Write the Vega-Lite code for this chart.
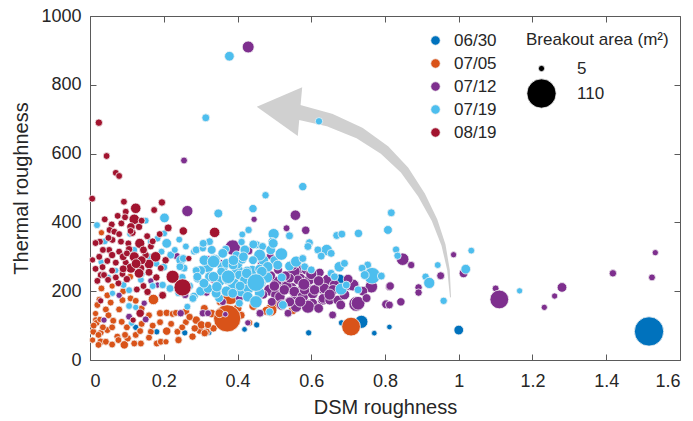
{
  "$schema": "https://vega.github.io/schema/vega-lite/v6.json",
  "width": 590,
  "height": 344,
  "autosize": {"type": "none"},
  "padding": {"left": 90, "top": 16, "right": 13, "bottom": 61},
  "background": "white",
  "config": {
    "font": "Liberation Sans",
    "view": {"stroke": "#5a5a5a", "strokeWidth": 1},
    "axis": {
      "grid": false,
      "domain": false,
      "tickColor": "#5a5a5a",
      "tickSize": -6,
      "tickWidth": 1,
      "labelFontSize": 18,
      "labelColor": "#262626",
      "titleFontSize": 20,
      "titleFontWeight": "normal",
      "titleColor": "#262626"
    },
    "legend": {
      "labelFontSize": 17,
      "labelColor": "#262626",
      "titleFontSize": 17,
      "titleFontWeight": "normal",
      "titleColor": "#262626",
      "padding": 0
    }
  },
  "datasets": {
    "arrow": [
      {"t": 0, "dsm": 0.563, "thermal": 721},
      {"t": 1, "dsm": 0.6495, "thermal": 697.7},
      {"t": 2, "dsm": 0.7308, "thermal": 659.9},
      {"t": 3, "dsm": 0.7986, "thermal": 610.5},
      {"t": 4, "dsm": 0.8529, "thermal": 552.3},
      {"t": 5, "dsm": 0.899, "thermal": 479.7},
      {"t": 6, "dsm": 0.9342, "thermal": 407},
      {"t": 7, "dsm": 0.9586, "thermal": 334.3},
      {"t": 8, "dsm": 0.9722, "thermal": 261.6},
      {"t": 9, "dsm": 0.9776, "thermal": 183.1}
    ],
    "head": [
      {"dsm": 0.5304, "thermal": 726.7}
    ],
    "points": [
      {"date": "06/30", "dsm": 1.516, "thermal": 83, "area": 110},
      {"date": "06/30", "dsm": 1.0, "thermal": 87, "area": 12},
      {"date": "06/30", "dsm": 0.812, "thermal": 96, "area": 4},
      {"date": "06/30", "dsm": 0.771, "thermal": 78, "area": 4},
      {"date": "06/30", "dsm": 0.736, "thermal": 111, "area": 22},
      {"date": "06/30", "dsm": 0.682, "thermal": 108, "area": 5},
      {"date": "06/30", "dsm": 0.677, "thermal": 234, "area": 15},
      {"date": "06/30", "dsm": 0.593, "thermal": 79, "area": 5},
      {"date": "06/30", "dsm": 0.452, "thermal": 102, "area": 5},
      {"date": "06/30", "dsm": 0.419, "thermal": 89, "area": 4},
      {"date": "06/30", "dsm": 0.323, "thermal": 79, "area": 4},
      {"date": "06/30", "dsm": 0.257, "thermal": 79, "area": 5},
      {"date": "06/30", "dsm": 0.181, "thermal": 82, "area": 5},
      {"date": "06/30", "dsm": 0.124, "thermal": 95, "area": 5},
      {"date": "06/30", "dsm": 0.112, "thermal": 107, "area": 4},

      {"date": "07/05", "dsm": 0.031, "thermal": 370, "area": 5},
      {"date": "07/05", "dsm": 0.109, "thermal": 242, "area": 6},
      {"date": "07/05", "dsm": 0.031, "thermal": 208, "area": 6},
      {"date": "07/05", "dsm": 0.047, "thermal": 188, "area": 6},
      {"date": "07/05", "dsm": 0.025, "thermal": 176, "area": 5},
      {"date": "07/05", "dsm": 0.056, "thermal": 167, "area": 6},
      {"date": "07/05", "dsm": 0.088, "thermal": 174, "area": 6},
      {"date": "07/05", "dsm": 0.11, "thermal": 179, "area": 6},
      {"date": "07/05", "dsm": 0.124, "thermal": 172, "area": 6},
      {"date": "07/05", "dsm": 0.172, "thermal": 176, "area": 14},
      {"date": "07/05", "dsm": 0.079, "thermal": 147, "area": 6},
      {"date": "07/05", "dsm": 0.043, "thermal": 147, "area": 6},
      {"date": "07/05", "dsm": 0.016, "thermal": 116, "area": 6},
      {"date": "07/05", "dsm": 0.063, "thermal": 114, "area": 6},
      {"date": "07/05", "dsm": 0.086, "thermal": 111, "area": 6},
      {"date": "07/05", "dsm": 0.19, "thermal": 136, "area": 7},
      {"date": "07/05", "dsm": 0.208, "thermal": 137, "area": 7},
      {"date": "07/05", "dsm": 0.224, "thermal": 134, "area": 6},
      {"date": "07/05", "dsm": 0.233, "thermal": 137, "area": 6},
      {"date": "07/05", "dsm": 0.26, "thermal": 141, "area": 7},
      {"date": "07/05", "dsm": 0.009, "thermal": 82, "area": 6},
      {"date": "07/05", "dsm": 0.029, "thermal": 79, "area": 6},
      {"date": "07/05", "dsm": 0.047, "thermal": 87, "area": 6},
      {"date": "07/05", "dsm": 0.074, "thermal": 68, "area": 6},
      {"date": "07/05", "dsm": 0.102, "thermal": 63, "area": 7},
      {"date": "07/05", "dsm": 0.124, "thermal": 73, "area": 6},
      {"date": "07/05", "dsm": 0.136, "thermal": 84, "area": 6},
      {"date": "07/05", "dsm": 0.165, "thermal": 82, "area": 6},
      {"date": "07/05", "dsm": 0.208, "thermal": 84, "area": 9},
      {"date": "07/05", "dsm": 0.237, "thermal": 82, "area": 6},
      {"date": "07/05", "dsm": 0.029, "thermal": 53, "area": 7},
      {"date": "07/05", "dsm": 0.043, "thermal": 53, "area": 6},
      {"date": "07/05", "dsm": 0.023, "thermal": 44, "area": 6},
      {"date": "07/05", "dsm": 0.093, "thermal": 44, "area": 9},
      {"date": "07/05", "dsm": 0.077, "thermal": 58, "area": 6},
      {"date": "07/05", "dsm": 0.138, "thermal": 48, "area": 6},
      {"date": "07/05", "dsm": 0.181, "thermal": 48, "area": 6},
      {"date": "07/05", "dsm": 0.192, "thermal": 53, "area": 6},
      {"date": "07/05", "dsm": 0.206, "thermal": 53, "area": 5},
      {"date": "07/05", "dsm": 0.24, "thermal": 58, "area": 7},
      {"date": "07/05", "dsm": 0.007, "thermal": 58, "area": 5},
      {"date": "07/05", "dsm": 0.018, "thermal": 108, "area": 6},
      {"date": "07/05", "dsm": 0.027, "thermal": 118, "area": 5},
      {"date": "07/05", "dsm": 0.023, "thermal": 73, "area": 6},
      {"date": "07/05", "dsm": 0.095, "thermal": 73, "area": 6},
      {"date": "07/05", "dsm": 0.278, "thermal": 68, "area": 7},
      {"date": "07/05", "dsm": 0.298, "thermal": 87, "area": 9},
      {"date": "07/05", "dsm": 0.316, "thermal": 82, "area": 7},
      {"date": "07/05", "dsm": 0.335, "thermal": 92, "area": 7},
      {"date": "07/05", "dsm": 0.288, "thermal": 116, "area": 9},
      {"date": "07/05", "dsm": 0.302, "thermal": 102, "area": 9},
      {"date": "07/05", "dsm": 0.311, "thermal": 78, "area": 7},
      {"date": "07/05", "dsm": 0.284, "thermal": 92, "area": 7},
      {"date": "07/05", "dsm": 0.32, "thermal": 102, "area": 7},
      {"date": "07/05", "dsm": 0.01, "thermal": 100, "area": 6},
      {"date": "07/05", "dsm": 0.035, "thermal": 95, "area": 6},
      {"date": "07/05", "dsm": 0.06, "thermal": 95, "area": 6},
      {"date": "07/05", "dsm": 0.015, "thermal": 135, "area": 5},
      {"date": "07/05", "dsm": 0.05, "thermal": 130, "area": 6},
      {"date": "07/05", "dsm": 0.1, "thermal": 95, "area": 6},
      {"date": "07/05", "dsm": 0.14, "thermal": 105, "area": 6},
      {"date": "07/05", "dsm": 0.17, "thermal": 100, "area": 6},
      {"date": "07/05", "dsm": 0.16, "thermal": 130, "area": 6},
      {"date": "07/05", "dsm": 0.19, "thermal": 110, "area": 6},
      {"date": "07/05", "dsm": 0.22, "thermal": 105, "area": 6},
      {"date": "07/05", "dsm": 0.26, "thermal": 110, "area": 6},
      {"date": "07/05", "dsm": 0.25, "thermal": 95, "area": 6},
      {"date": "07/05", "dsm": 0.06, "thermal": 45, "area": 6},
      {"date": "07/05", "dsm": 0.12, "thermal": 48, "area": 6},
      {"date": "07/05", "dsm": 0.16, "thermal": 65, "area": 6},
      {"date": "07/05", "dsm": 0.27, "thermal": 125, "area": 7},
      {"date": "07/05", "dsm": 0.14, "thermal": 150, "area": 6},
      {"date": "07/05", "dsm": 0.09, "thermal": 200, "area": 6},
      {"date": "07/05", "dsm": 0.06, "thermal": 215, "area": 5},
      {"date": "07/05", "dsm": 0.02, "thermal": 160, "area": 6},
      {"date": "07/05", "dsm": 0.33, "thermal": 135, "area": 9},
      {"date": "07/05", "dsm": 0.4, "thermal": 150, "area": 10},
      {"date": "07/05", "dsm": 0.41, "thermal": 130, "area": 8},
      {"date": "07/05", "dsm": 0.35, "thermal": 110, "area": 8},
      {"date": "07/05", "dsm": 0.31, "thermal": 150, "area": 8},
      {"date": "07/05", "dsm": 0.5, "thermal": 160, "area": 12},
      {"date": "07/05", "dsm": 0.55, "thermal": 145, "area": 10},
      {"date": "07/05", "dsm": 0.372, "thermal": 121, "area": 95},
      {"date": "07/05", "dsm": 0.38, "thermal": 186, "area": 38},
      {"date": "07/05", "dsm": 0.432, "thermal": 108, "area": 6},
      {"date": "07/05", "dsm": 0.353, "thermal": 169, "area": 8},
      {"date": "07/05", "dsm": 0.49, "thermal": 145, "area": 20},
      {"date": "07/05", "dsm": 0.478, "thermal": 143, "area": 10},
      {"date": "07/05", "dsm": 0.708, "thermal": 97, "area": 45},
      {"date": "07/05", "dsm": 0.351, "thermal": 136, "area": 10},
      {"date": "07/05", "dsm": 0.443, "thermal": 157, "area": 10},

      {"date": "07/12", "dsm": 0.429, "thermal": 910, "area": 18},
      {"date": "07/12", "dsm": 0.255, "thermal": 580, "area": 6},
      {"date": "07/12", "dsm": 0.264, "thermal": 433, "area": 16},
      {"date": "07/12", "dsm": 0.445, "thermal": 409, "area": 5},
      {"date": "07/12", "dsm": 0.557, "thermal": 421, "area": 14},
      {"date": "07/12", "dsm": 0.533, "thermal": 383, "area": 6},
      {"date": "07/12", "dsm": 0.585, "thermal": 377, "area": 9},
      {"date": "07/12", "dsm": 0.387, "thermal": 327, "area": 30},
      {"date": "07/12", "dsm": 0.431, "thermal": 317, "area": 8},
      {"date": "07/12", "dsm": 0.489, "thermal": 302, "area": 8},
      {"date": "07/12", "dsm": 0.561, "thermal": 262, "area": 20},
      {"date": "07/12", "dsm": 0.352, "thermal": 283, "area": 7},
      {"date": "07/12", "dsm": 0.32, "thermal": 294, "area": 6},
      {"date": "07/12", "dsm": 0.235, "thermal": 302, "area": 7},
      {"date": "07/12", "dsm": 0.165, "thermal": 230, "area": 5},
      {"date": "07/12", "dsm": 0.183, "thermal": 218, "area": 5},
      {"date": "07/12", "dsm": 0.079, "thermal": 188, "area": 5},
      {"date": "07/12", "dsm": 0.147, "thermal": 165, "area": 5},
      {"date": "07/12", "dsm": 0.038, "thermal": 116, "area": 5},
      {"date": "07/12", "dsm": 0.106, "thermal": 126, "area": 6},
      {"date": "07/12", "dsm": 0.151, "thermal": 118, "area": 6},
      {"date": "07/12", "dsm": 0.246, "thermal": 136, "area": 7},
      {"date": "07/12", "dsm": 0.367, "thermal": 133, "area": 4},
      {"date": "07/12", "dsm": 0.306, "thermal": 198, "area": 7},
      {"date": "07/12", "dsm": 0.36, "thermal": 169, "area": 7},
      {"date": "07/12", "dsm": 0.405, "thermal": 179, "area": 8},
      {"date": "07/12", "dsm": 0.419, "thermal": 198, "area": 9},
      {"date": "07/12", "dsm": 0.428, "thermal": 108, "area": 5},
      {"date": "07/12", "dsm": 0.46, "thermal": 136, "area": 7},
      {"date": "07/12", "dsm": 0.306, "thermal": 136, "area": 7},
      {"date": "07/12", "dsm": 0.32, "thermal": 136, "area": 6},
      {"date": "07/12", "dsm": 0.258, "thermal": 189, "area": 7},
      {"date": "07/12", "dsm": 0.335, "thermal": 234, "area": 8},
      {"date": "07/12", "dsm": 0.316, "thermal": 196, "area": 7},
      {"date": "07/12", "dsm": 0.487, "thermal": 203, "area": 18},
      {"date": "07/12", "dsm": 0.505, "thermal": 189, "area": 16},
      {"date": "07/12", "dsm": 0.523, "thermal": 218, "area": 20},
      {"date": "07/12", "dsm": 0.546, "thermal": 208, "area": 18},
      {"date": "07/12", "dsm": 0.541, "thermal": 169, "area": 15},
      {"date": "07/12", "dsm": 0.559, "thermal": 155, "area": 16},
      {"date": "07/12", "dsm": 0.537, "thermal": 136, "area": 8},
      {"date": "07/12", "dsm": 0.506, "thermal": 228, "area": 14},
      {"date": "07/12", "dsm": 0.533, "thermal": 213, "area": 16},
      {"date": "07/12", "dsm": 0.561, "thermal": 194, "area": 24},
      {"date": "07/12", "dsm": 0.515, "thermal": 184, "area": 14},
      {"date": "07/12", "dsm": 0.493, "thermal": 169, "area": 10},
      {"date": "07/12", "dsm": 0.542, "thermal": 169, "area": 12},
      {"date": "07/12", "dsm": 0.592, "thermal": 157, "area": 24},
      {"date": "07/12", "dsm": 0.624, "thermal": 213, "area": 16},
      {"date": "07/12", "dsm": 0.597, "thermal": 203, "area": 14},
      {"date": "07/12", "dsm": 0.57, "thermal": 237, "area": 14},
      {"date": "07/12", "dsm": 0.552, "thermal": 257, "area": 22},
      {"date": "07/12", "dsm": 0.658, "thermal": 131, "area": 8},
      {"date": "07/12", "dsm": 0.461, "thermal": 136, "area": 8},
      {"date": "07/12", "dsm": 0.55, "thermal": 276, "area": 14},
      {"date": "07/12", "dsm": 0.586, "thermal": 262, "area": 12},
      {"date": "07/12", "dsm": 0.595, "thermal": 233, "area": 14},
      {"date": "07/12", "dsm": 0.564, "thermal": 233, "area": 12},
      {"date": "07/12", "dsm": 0.541, "thermal": 238, "area": 12},
      {"date": "07/12", "dsm": 0.527, "thermal": 204, "area": 14},
      {"date": "07/12", "dsm": 0.554, "thermal": 199, "area": 14},
      {"date": "07/12", "dsm": 0.577, "thermal": 184, "area": 16},
      {"date": "07/12", "dsm": 0.604, "thermal": 194, "area": 16},
      {"date": "07/12", "dsm": 0.631, "thermal": 208, "area": 16},
      {"date": "07/12", "dsm": 0.645, "thermal": 233, "area": 16},
      {"date": "07/12", "dsm": 0.663, "thermal": 218, "area": 14},
      {"date": "07/12", "dsm": 0.681, "thermal": 204, "area": 14},
      {"date": "07/12", "dsm": 0.704, "thermal": 218, "area": 16},
      {"date": "07/12", "dsm": 0.717, "thermal": 218, "area": 12},
      {"date": "07/12", "dsm": 0.722, "thermal": 163, "area": 28},
      {"date": "07/12", "dsm": 0.604, "thermal": 165, "area": 12},
      {"date": "07/12", "dsm": 0.631, "thermal": 175, "area": 14},
      {"date": "07/12", "dsm": 0.623, "thermal": 254, "area": 10},
      {"date": "07/12", "dsm": 0.582, "thermal": 204, "area": 14},
      {"date": "07/12", "dsm": 0.609, "thermal": 204, "area": 14},
      {"date": "07/12", "dsm": 0.636, "thermal": 208, "area": 14},
      {"date": "07/12", "dsm": 0.659, "thermal": 204, "area": 14},
      {"date": "07/12", "dsm": 0.713, "thermal": 218, "area": 18},
      {"date": "07/12", "dsm": 0.763, "thermal": 213, "area": 20},
      {"date": "07/12", "dsm": 0.812, "thermal": 213, "area": 8},
      {"date": "07/12", "dsm": 0.591, "thermal": 155, "area": 22},
      {"date": "07/12", "dsm": 0.632, "thermal": 179, "area": 12},
      {"date": "07/12", "dsm": 0.65, "thermal": 174, "area": 12},
      {"date": "07/12", "dsm": 0.672, "thermal": 174, "area": 12},
      {"date": "07/12", "dsm": 0.727, "thermal": 165, "area": 24},
      {"date": "07/12", "dsm": 0.803, "thermal": 162, "area": 10},
      {"date": "07/12", "dsm": 0.812, "thermal": 160, "area": 8},
      {"date": "07/12", "dsm": 0.843, "thermal": 169, "area": 9},
      {"date": "07/12", "dsm": 0.848, "thermal": 293, "area": 20},
      {"date": "07/12", "dsm": 0.871, "thermal": 276, "area": 7},
      {"date": "07/12", "dsm": 0.986, "thermal": 306, "area": 5},
      {"date": "07/12", "dsm": 0.951, "thermal": 245, "area": 8},
      {"date": "07/12", "dsm": 1.013, "thermal": 252, "area": 10},
      {"date": "07/12", "dsm": 0.891, "thermal": 211, "area": 7},
      {"date": "07/12", "dsm": 0.891, "thermal": 196, "area": 7},
      {"date": "07/12", "dsm": 0.814, "thermal": 215, "area": 9},
      {"date": "07/12", "dsm": 1.1, "thermal": 208, "area": 6},
      {"date": "07/12", "dsm": 1.11, "thermal": 176, "area": 45},
      {"date": "07/12", "dsm": 1.232, "thermal": 153, "area": 5},
      {"date": "07/12", "dsm": 1.26, "thermal": 186, "area": 5},
      {"date": "07/12", "dsm": 1.28, "thermal": 211, "area": 12},
      {"date": "07/12", "dsm": 1.418, "thermal": 252, "area": 7},
      {"date": "07/12", "dsm": 1.524, "thermal": 240, "area": 6},
      {"date": "07/12", "dsm": 1.533, "thermal": 312, "area": 5},
      {"date": "07/12", "dsm": 0.47, "thermal": 255, "area": 10},
      {"date": "07/12", "dsm": 0.49, "thermal": 245, "area": 12},
      {"date": "07/12", "dsm": 0.51, "thermal": 262, "area": 10},
      {"date": "07/12", "dsm": 0.465, "thermal": 280, "area": 8},
      {"date": "07/12", "dsm": 0.43, "thermal": 255, "area": 7},
      {"date": "07/12", "dsm": 0.58, "thermal": 220, "area": 18},
      {"date": "07/12", "dsm": 0.6, "thermal": 250, "area": 16},
      {"date": "07/12", "dsm": 0.62, "thermal": 230, "area": 14},
      {"date": "07/12", "dsm": 0.65, "thermal": 190, "area": 16},
      {"date": "07/12", "dsm": 0.69, "thermal": 190, "area": 14},
      {"date": "07/12", "dsm": 0.7, "thermal": 235, "area": 12},
      {"date": "07/12", "dsm": 0.52, "thermal": 160, "area": 14},
      {"date": "07/12", "dsm": 0.57, "thermal": 170, "area": 16},
      {"date": "07/12", "dsm": 0.62, "thermal": 150, "area": 12},
      {"date": "07/12", "dsm": 0.68, "thermal": 160, "area": 12},
      {"date": "07/12", "dsm": 0.74, "thermal": 200, "area": 12},
      {"date": "07/12", "dsm": 0.75, "thermal": 180, "area": 10},
      {"date": "07/12", "dsm": 0.5, "thermal": 215, "area": 14},
      {"date": "07/12", "dsm": 0.47, "thermal": 190, "area": 10},
      {"date": "07/12", "dsm": 0.53, "thermal": 245, "area": 12},

      {"date": "07/19", "dsm": 0.378, "thermal": 883, "area": 12},
      {"date": "07/19", "dsm": 0.314, "thermal": 704, "area": 8},
      {"date": "07/19", "dsm": 0.621, "thermal": 694, "area": 7},
      {"date": "07/19", "dsm": 0.577, "thermal": 504, "area": 9},
      {"date": "07/19", "dsm": 0.476, "thermal": 479, "area": 7},
      {"date": "07/19", "dsm": 0.348, "thermal": 426, "area": 10},
      {"date": "07/19", "dsm": 0.442, "thermal": 440, "area": 9},
      {"date": "07/19", "dsm": 0.151, "thermal": 405, "area": 6},
      {"date": "07/19", "dsm": 0.202, "thermal": 413, "area": 12},
      {"date": "07/19", "dsm": 0.43, "thermal": 378, "area": 7},
      {"date": "07/19", "dsm": 0.413, "thermal": 365, "area": 6},
      {"date": "07/19", "dsm": 0.498, "thermal": 366, "area": 16},
      {"date": "07/19", "dsm": 0.541, "thermal": 361, "area": 8},
      {"date": "07/19", "dsm": 0.669, "thermal": 362, "area": 8},
      {"date": "07/19", "dsm": 0.683, "thermal": 366, "area": 8},
      {"date": "07/19", "dsm": 0.728, "thermal": 368, "area": 9},
      {"date": "07/19", "dsm": 0.808, "thermal": 378, "area": 10},
      {"date": "07/19", "dsm": 0.817, "thermal": 428, "area": 8},
      {"date": "07/19", "dsm": 0.019, "thermal": 392, "area": 6},
      {"date": "07/19", "dsm": 0.201, "thermal": 368, "area": 6},
      {"date": "07/19", "dsm": 0.108, "thermal": 366, "area": 5},
      {"date": "07/19", "dsm": 0.165, "thermal": 344, "area": 6},
      {"date": "07/19", "dsm": 0.183, "thermal": 353, "area": 6},
      {"date": "07/19", "dsm": 0.208, "thermal": 339, "area": 12},
      {"date": "07/19", "dsm": 0.242, "thermal": 350, "area": 6},
      {"date": "07/19", "dsm": 0.088, "thermal": 305, "area": 5},
      {"date": "07/19", "dsm": 0.194, "thermal": 315, "area": 6},
      {"date": "07/19", "dsm": 0.219, "thermal": 305, "area": 8},
      {"date": "07/19", "dsm": 0.246, "thermal": 290, "area": 12},
      {"date": "07/19", "dsm": 0.255, "thermal": 267, "area": 8},
      {"date": "07/19", "dsm": 0.282, "thermal": 315, "area": 6},
      {"date": "07/19", "dsm": 0.07, "thermal": 260, "area": 5},
      {"date": "07/19", "dsm": 0.138, "thermal": 233, "area": 6},
      {"date": "07/19", "dsm": 0.091, "thermal": 218, "area": 6},
      {"date": "07/19", "dsm": 0.197, "thermal": 218, "area": 7},
      {"date": "07/19", "dsm": 0.282, "thermal": 185, "area": 9},
      {"date": "07/19", "dsm": 0.061, "thermal": 194, "area": 5},
      {"date": "07/19", "dsm": 0.106, "thermal": 203, "area": 6},
      {"date": "07/19", "dsm": 0.106, "thermal": 157, "area": 6},
      {"date": "07/19", "dsm": 0.124, "thermal": 153, "area": 5},
      {"date": "07/19", "dsm": 0.113, "thermal": 107, "area": 5},
      {"date": "07/19", "dsm": 0.264, "thermal": 155, "area": 6},
      {"date": "07/19", "dsm": 0.04, "thermal": 345, "area": 6},
      {"date": "07/19", "dsm": 0.03, "thermal": 285, "area": 5},
      {"date": "07/19", "dsm": 0.12, "thermal": 320, "area": 6},
      {"date": "07/19", "dsm": 0.16, "thermal": 300, "area": 6},
      {"date": "07/19", "dsm": 0.14, "thermal": 250, "area": 6},
      {"date": "07/19", "dsm": 0.2, "thermal": 270, "area": 8},
      {"date": "07/19", "dsm": 0.23, "thermal": 320, "area": 6},
      {"date": "07/19", "dsm": 0.26, "thermal": 330, "area": 6},
      {"date": "07/19", "dsm": 0.18, "thermal": 280, "area": 6},
      {"date": "07/19", "dsm": 0.05, "thermal": 240, "area": 5},
      {"date": "07/19", "dsm": 0.17, "thermal": 215, "area": 6},
      {"date": "07/19", "dsm": 0.25, "thermal": 240, "area": 8},
      {"date": "07/19", "dsm": 0.27, "thermal": 215, "area": 8},
      {"date": "07/19", "dsm": 0.24, "thermal": 195, "area": 7},
      {"date": "07/19", "dsm": 0.324, "thermal": 344, "area": 8},
      {"date": "07/19", "dsm": 0.411, "thermal": 343, "area": 7},
      {"date": "07/19", "dsm": 0.494, "thermal": 344, "area": 9},
      {"date": "07/19", "dsm": 0.452, "thermal": 335, "area": 8},
      {"date": "07/19", "dsm": 0.468, "thermal": 330, "area": 8},
      {"date": "07/19", "dsm": 0.368, "thermal": 322, "area": 8},
      {"date": "07/19", "dsm": 0.288, "thermal": 320, "area": 8},
      {"date": "07/19", "dsm": 0.306, "thermal": 325, "area": 7},
      {"date": "07/19", "dsm": 0.32, "thermal": 270, "area": 16},
      {"date": "07/19", "dsm": 0.35, "thermal": 230, "area": 18},
      {"date": "07/19", "dsm": 0.36, "thermal": 270, "area": 16},
      {"date": "07/19", "dsm": 0.4, "thermal": 260, "area": 18},
      {"date": "07/19", "dsm": 0.41, "thermal": 200, "area": 16},
      {"date": "07/19", "dsm": 0.43, "thermal": 210, "area": 18},
      {"date": "07/19", "dsm": 0.39, "thermal": 220, "area": 20},
      {"date": "07/19", "dsm": 0.3, "thermal": 200, "area": 12},
      {"date": "07/19", "dsm": 0.31, "thermal": 290, "area": 14},
      {"date": "07/19", "dsm": 0.36, "thermal": 310, "area": 12},
      {"date": "07/19", "dsm": 0.42, "thermal": 320, "area": 12},
      {"date": "07/19", "dsm": 0.47, "thermal": 290, "area": 14},
      {"date": "07/19", "dsm": 0.48, "thermal": 240, "area": 16},
      {"date": "07/19", "dsm": 0.44, "thermal": 260, "area": 14},
      {"date": "07/19", "dsm": 0.35, "thermal": 180, "area": 10},
      {"date": "07/19", "dsm": 0.46, "thermal": 195, "area": 14},
      {"date": "07/19", "dsm": 0.4, "thermal": 280, "area": 14},
      {"date": "07/19", "dsm": 0.3, "thermal": 260, "area": 12},
      {"date": "07/19", "dsm": 0.37, "thermal": 200, "area": 14},
      {"date": "07/19", "dsm": 0.49, "thermal": 320, "area": 12},
      {"date": "07/19", "dsm": 0.33, "thermal": 320, "area": 10},
      {"date": "07/19", "dsm": 0.52, "thermal": 240, "area": 10},
      {"date": "07/19", "dsm": 0.5, "thermal": 290, "area": 10},
      {"date": "07/19", "dsm": 0.46, "thermal": 305, "area": 18},
      {"date": "07/19", "dsm": 0.519, "thermal": 308, "area": 20},
      {"date": "07/19", "dsm": 0.397, "thermal": 305, "area": 9},
      {"date": "07/19", "dsm": 0.413, "thermal": 292, "area": 10},
      {"date": "07/19", "dsm": 0.442, "thermal": 290, "area": 10},
      {"date": "07/19", "dsm": 0.338, "thermal": 290, "area": 18},
      {"date": "07/19", "dsm": 0.37, "thermal": 281, "area": 12},
      {"date": "07/19", "dsm": 0.388, "thermal": 276, "area": 12},
      {"date": "07/19", "dsm": 0.288, "thermal": 260, "area": 8},
      {"date": "07/19", "dsm": 0.482, "thermal": 271, "area": 14},
      {"date": "07/19", "dsm": 0.509, "thermal": 276, "area": 12},
      {"date": "07/19", "dsm": 0.541, "thermal": 273, "area": 12},
      {"date": "07/19", "dsm": 0.426, "thermal": 260, "area": 10},
      {"date": "07/19", "dsm": 0.46, "thermal": 264, "area": 12},
      {"date": "07/19", "dsm": 0.292, "thermal": 237, "area": 10},
      {"date": "07/19", "dsm": 0.324, "thermal": 242, "area": 12},
      {"date": "07/19", "dsm": 0.374, "thermal": 237, "area": 20},
      {"date": "07/19", "dsm": 0.356, "thermal": 257, "area": 10},
      {"date": "07/19", "dsm": 0.405, "thermal": 247, "area": 12},
      {"date": "07/19", "dsm": 0.419, "thermal": 233, "area": 12},
      {"date": "07/19", "dsm": 0.464, "thermal": 223, "area": 12},
      {"date": "07/19", "dsm": 0.279, "thermal": 179, "area": 8},
      {"date": "07/19", "dsm": 0.32, "thermal": 208, "area": 12},
      {"date": "07/19", "dsm": 0.342, "thermal": 194, "area": 12},
      {"date": "07/19", "dsm": 0.387, "thermal": 194, "area": 12},
      {"date": "07/19", "dsm": 0.405, "thermal": 165, "area": 8},
      {"date": "07/19", "dsm": 0.428, "thermal": 184, "area": 14},
      {"date": "07/19", "dsm": 0.45, "thermal": 169, "area": 20},
      {"date": "07/19", "dsm": 0.487, "thermal": 140, "area": 8},
      {"date": "07/19", "dsm": 0.523, "thermal": 160, "area": 10},
      {"date": "07/19", "dsm": 0.335, "thermal": 286, "area": 20},
      {"date": "07/19", "dsm": 0.375, "thermal": 242, "area": 24},
      {"date": "07/19", "dsm": 0.389, "thermal": 290, "area": 14},
      {"date": "07/19", "dsm": 0.335, "thermal": 242, "area": 14},
      {"date": "07/19", "dsm": 0.309, "thermal": 223, "area": 12},
      {"date": "07/19", "dsm": 0.344, "thermal": 213, "area": 14},
      {"date": "07/19", "dsm": 0.407, "thermal": 215, "area": 12},
      {"date": "07/19", "dsm": 0.466, "thermal": 257, "area": 14},
      {"date": "07/19", "dsm": 0.497, "thermal": 339, "area": 12},
      {"date": "07/19", "dsm": 0.425, "thermal": 252, "area": 14},
      {"date": "07/19", "dsm": 0.416, "thermal": 300, "area": 12},
      {"date": "07/19", "dsm": 0.443, "thermal": 336, "area": 10},
      {"date": "07/19", "dsm": 0.253, "thermal": 295, "area": 8},
      {"date": "07/19", "dsm": 0.307, "thermal": 339, "area": 8},
      {"date": "07/19", "dsm": 0.244, "thermal": 271, "area": 8},
      {"date": "07/19", "dsm": 0.226, "thermal": 237, "area": 10},
      {"date": "07/19", "dsm": 0.217, "thermal": 208, "area": 8},
      {"date": "07/19", "dsm": 0.291, "thermal": 242, "area": 10},
      {"date": "07/19", "dsm": 0.45, "thermal": 225, "area": 40},
      {"date": "07/19", "dsm": 0.595, "thermal": 341, "area": 8},
      {"date": "07/19", "dsm": 0.591, "thermal": 330, "area": 8},
      {"date": "07/19", "dsm": 0.642, "thermal": 320, "area": 16},
      {"date": "07/19", "dsm": 0.618, "thermal": 320, "area": 8},
      {"date": "07/19", "dsm": 0.654, "thermal": 310, "area": 8},
      {"date": "07/19", "dsm": 0.83, "thermal": 321, "area": 7},
      {"date": "07/19", "dsm": 0.834, "thermal": 303, "area": 7},
      {"date": "07/19", "dsm": 0.559, "thermal": 286, "area": 16},
      {"date": "07/19", "dsm": 0.577, "thermal": 295, "area": 8},
      {"date": "07/19", "dsm": 0.582, "thermal": 271, "area": 8},
      {"date": "07/19", "dsm": 0.6, "thermal": 262, "area": 8},
      {"date": "07/19", "dsm": 0.676, "thermal": 271, "area": 14},
      {"date": "07/19", "dsm": 0.69, "thermal": 281, "area": 8},
      {"date": "07/19", "dsm": 0.753, "thermal": 276, "area": 8},
      {"date": "07/19", "dsm": 0.738, "thermal": 267, "area": 8},
      {"date": "07/19", "dsm": 0.765, "thermal": 245, "area": 35},
      {"date": "07/19", "dsm": 0.745, "thermal": 247, "area": 10},
      {"date": "07/19", "dsm": 0.79, "thermal": 244, "area": 8},
      {"date": "07/19", "dsm": 0.654, "thermal": 252, "area": 8},
      {"date": "07/19", "dsm": 0.663, "thermal": 242, "area": 8},
      {"date": "07/19", "dsm": 0.681, "thermal": 206, "area": 18},
      {"date": "07/19", "dsm": 0.727, "thermal": 204, "area": 8},
      {"date": "07/19", "dsm": 0.695, "thermal": 218, "area": 8},
      {"date": "07/19", "dsm": 0.627, "thermal": 302, "area": 8},
      {"date": "07/19", "dsm": 0.943, "thermal": 276, "area": 6},
      {"date": "07/19", "dsm": 1.034, "thermal": 318, "area": 6},
      {"date": "07/19", "dsm": 1.019, "thermal": 264, "area": 12},
      {"date": "07/19", "dsm": 0.91, "thermal": 242, "area": 7},
      {"date": "07/19", "dsm": 0.92, "thermal": 224, "area": 16},
      {"date": "07/19", "dsm": 0.959, "thermal": 172, "area": 7},
      {"date": "07/19", "dsm": 1.165, "thermal": 201, "area": 5},

      {"date": "08/19", "dsm": 0.024, "thermal": 690, "area": 7},
      {"date": "08/19", "dsm": 0.045, "thermal": 593, "area": 6},
      {"date": "08/19", "dsm": 0.07, "thermal": 544, "area": 6},
      {"date": "08/19", "dsm": 0.079, "thermal": 535, "area": 6},
      {"date": "08/19", "dsm": 0.006, "thermal": 469, "area": 6},
      {"date": "08/19", "dsm": 0.092, "thermal": 460, "area": 6},
      {"date": "08/19", "dsm": 0.195, "thermal": 458, "area": 7},
      {"date": "08/19", "dsm": 0.174, "thermal": 436, "area": 6},
      {"date": "08/19", "dsm": 0.124, "thermal": 441, "area": 14},
      {"date": "08/19", "dsm": 0.097, "thermal": 431, "area": 6},
      {"date": "08/19", "dsm": 0.075, "thermal": 419, "area": 6},
      {"date": "08/19", "dsm": 0.04, "thermal": 409, "area": 6},
      {"date": "08/19", "dsm": 0.12, "thermal": 409, "area": 14},
      {"date": "08/19", "dsm": 0.085, "thermal": 397, "area": 6},
      {"date": "08/19", "dsm": 0.059, "thermal": 394, "area": 6},
      {"date": "08/19", "dsm": 0.053, "thermal": 378, "area": 6},
      {"date": "08/19", "dsm": 0.066, "thermal": 373, "area": 6},
      {"date": "08/19", "dsm": 0.079, "thermal": 366, "area": 6},
      {"date": "08/19", "dsm": 0.111, "thermal": 387, "area": 9},
      {"date": "08/19", "dsm": 0.133, "thermal": 387, "area": 7},
      {"date": "08/19", "dsm": 0.115, "thermal": 370, "area": 7},
      {"date": "08/19", "dsm": 0.212, "thermal": 384, "area": 8},
      {"date": "08/19", "dsm": 0.253, "thermal": 375, "area": 9},
      {"date": "08/19", "dsm": 0.338, "thermal": 371, "area": 14},
      {"date": "08/19", "dsm": 0.189, "thermal": 366, "area": 6},
      {"date": "08/19", "dsm": 0.027, "thermal": 344, "area": 6},
      {"date": "08/19", "dsm": 0.061, "thermal": 349, "area": 6},
      {"date": "08/19", "dsm": 0.084, "thermal": 344, "area": 6},
      {"date": "08/19", "dsm": 0.104, "thermal": 339, "area": 6},
      {"date": "08/19", "dsm": 0.135, "thermal": 339, "area": 13},
      {"date": "08/19", "dsm": 0.052, "thermal": 320, "area": 6},
      {"date": "08/19", "dsm": 0.079, "thermal": 315, "area": 6},
      {"date": "08/19", "dsm": 0.106, "thermal": 322, "area": 7},
      {"date": "08/19", "dsm": 0.12, "thermal": 300, "area": 13},
      {"date": "08/19", "dsm": 0.151, "thermal": 305, "area": 7},
      {"date": "08/19", "dsm": 0.178, "thermal": 300, "area": 14},
      {"date": "08/19", "dsm": 0.007, "thermal": 291, "area": 5},
      {"date": "08/19", "dsm": 0.025, "thermal": 300, "area": 6},
      {"date": "08/19", "dsm": 0.047, "thermal": 288, "area": 6},
      {"date": "08/19", "dsm": 0.07, "thermal": 283, "area": 6},
      {"date": "08/19", "dsm": 0.097, "thermal": 283, "area": 6},
      {"date": "08/19", "dsm": 0.111, "thermal": 267, "area": 13},
      {"date": "08/19", "dsm": 0.138, "thermal": 267, "area": 8},
      {"date": "08/19", "dsm": 0.16, "thermal": 279, "area": 12},
      {"date": "08/19", "dsm": 0.192, "thermal": 267, "area": 6},
      {"date": "08/19", "dsm": 0.034, "thermal": 270, "area": 6},
      {"date": "08/19", "dsm": 0.029, "thermal": 247, "area": 6},
      {"date": "08/19", "dsm": 0.038, "thermal": 247, "area": 6},
      {"date": "08/19", "dsm": 0.049, "thermal": 233, "area": 6},
      {"date": "08/19", "dsm": 0.088, "thermal": 250, "area": 6},
      {"date": "08/19", "dsm": 0.133, "thermal": 252, "area": 12},
      {"date": "08/19", "dsm": 0.077, "thermal": 223, "area": 6},
      {"date": "08/19", "dsm": 0.127, "thermal": 205, "area": 6},
      {"date": "08/19", "dsm": 0.156, "thermal": 198, "area": 7},
      {"date": "08/19", "dsm": 0.197, "thermal": 188, "area": 8},
      {"date": "08/19", "dsm": 0.029, "thermal": 172, "area": 5},
      {"date": "08/19", "dsm": 0.136, "thermal": 136, "area": 9},
      {"date": "08/19", "dsm": 0.117, "thermal": 116, "area": 5},
      {"date": "08/19", "dsm": 0.268, "thermal": 295, "area": 5},
      {"date": "08/19", "dsm": 0.015, "thermal": 340, "area": 6},
      {"date": "08/19", "dsm": 0.035, "thermal": 320, "area": 6},
      {"date": "08/19", "dsm": 0.06, "thermal": 305, "area": 7},
      {"date": "08/19", "dsm": 0.09, "thermal": 300, "area": 8},
      {"date": "08/19", "dsm": 0.1, "thermal": 310, "area": 6},
      {"date": "08/19", "dsm": 0.145, "thermal": 320, "area": 8},
      {"date": "08/19", "dsm": 0.165, "thermal": 330, "area": 6},
      {"date": "08/19", "dsm": 0.14, "thermal": 290, "area": 10},
      {"date": "08/19", "dsm": 0.125, "thermal": 280, "area": 12},
      {"date": "08/19", "dsm": 0.09, "thermal": 265, "area": 8},
      {"date": "08/19", "dsm": 0.06, "thermal": 260, "area": 6},
      {"date": "08/19", "dsm": 0.015, "thermal": 265, "area": 6},
      {"date": "08/19", "dsm": 0.02, "thermal": 230, "area": 6},
      {"date": "08/19", "dsm": 0.16, "thermal": 255, "area": 8},
      {"date": "08/19", "dsm": 0.18, "thermal": 240, "area": 7},
      {"date": "08/19", "dsm": 0.1, "thermal": 235, "area": 7},
      {"date": "08/19", "dsm": 0.07, "thermal": 240, "area": 6},
      {"date": "08/19", "dsm": 0.145, "thermal": 215, "area": 6},
      {"date": "08/19", "dsm": 0.11, "thermal": 375, "area": 6},
      {"date": "08/19", "dsm": 0.05, "thermal": 355, "area": 6},
      {"date": "08/19", "dsm": 0.155, "thermal": 360, "area": 6},
      {"date": "08/19", "dsm": 0.14, "thermal": 405, "area": 6},
      {"date": "08/19", "dsm": 0.095, "thermal": 415, "area": 6},
      {"date": "08/19", "dsm": 0.17, "thermal": 345, "area": 6},
      {"date": "08/19", "dsm": 0.205, "thermal": 290, "area": 7},
      {"date": "08/19", "dsm": 0.224, "thermal": 242, "area": 22},
      {"date": "08/19", "dsm": 0.251, "thermal": 211, "area": 38}
    ]
  },
  "resolve": {
    "scale": {"x": "independent", "y": "independent", "size": "independent"},
    "axis": {"x": "independent", "y": "independent"}
  },
  "layer": [
    {
      "data": {"name": "arrow"},
      "mark": {"type": "trail", "color": "#d0d0d0"},
      "encoding": {
        "x": {
          "field": "dsm", "type": "quantitative",
          "scale": {"domain": [0, 1.6], "nice": false, "zero": false},
          "axis": {
            "orient": "bottom", "title": "DSM roughness",
            "values": [0, 0.2, 0.4, 0.6, 0.8, 1, 1.2, 1.4, 1.6],
            "format": "~g", "labelPadding": 18, "titlePadding": 7
          }
        },
        "y": {
          "field": "thermal", "type": "quantitative",
          "scale": {"domain": [0, 1000], "nice": false},
          "axis": {
            "orient": "left", "title": "Thermal roughness",
            "values": [0, 200, 400, 600, 800, 1000],
            "format": "d", "labelPadding": 15, "titlePadding": 9
          }
        },
        "order": {"field": "t", "type": "quantitative"},
        "size": {
          "field": "t", "type": "quantitative",
          "scale": {"domain": [0, 9], "range": [15, 1]},
          "legend": null
        }
      }
    },
    {
      "data": {"name": "head"},
      "mark": {
        "type": "point", "filled": true, "opacity": 1,
        "color": "#d0d0d0", "size": 2500,
        "shape": "M-1.152,-0.132L0.664,-0.908L0.488,1.04Z"
      },
      "encoding": {
        "x": {
          "field": "dsm", "type": "quantitative",
          "scale": {"domain": [0, 1.6], "nice": false, "zero": false},
          "axis": {
            "orient": "top", "title": null, "labels": false,
            "values": [0, 0.2, 0.4, 0.6, 0.8, 1, 1.2, 1.4, 1.6]
          }
        },
        "y": {
          "field": "thermal", "type": "quantitative",
          "scale": {"domain": [0, 1000], "nice": false},
          "axis": {
            "orient": "right", "title": null, "labels": false,
            "values": [0, 200, 400, 600, 800, 1000]
          }
        }
      }
    },
    {
      "data": {"name": "points"},
      "mark": {
        "type": "point", "filled": true, "opacity": 1,
        "stroke": "#f4f4f4", "strokeWidth": 0.8
      },
      "encoding": {
        "x": {
          "field": "dsm", "type": "quantitative",
          "scale": {"domain": [0, 1.6], "nice": false, "zero": false},
          "axis": null
        },
        "y": {
          "field": "thermal", "type": "quantitative",
          "scale": {"domain": [0, 1000], "nice": false},
          "axis": null
        },
        "color": {
          "field": "date", "type": "nominal",
          "scale": {
            "domain": ["06/30", "07/05", "07/12", "07/19", "08/19"],
            "range": ["#0072BD", "#D95319", "#7E2F8E", "#4DBEEE", "#A2142F"]
          },
          "legend": {
            "orient": "none", "legendX": 337, "legendY": 16,
            "title": null, "symbolType": "circle", "symbolSize": 90,
            "symbolStrokeColor": "#f4f4f4", "symbolStrokeWidth": 0.8,
            "rowPadding": 5, "labelOffset": 10
          }
        },
        "size": {
          "field": "area", "type": "quantitative",
          "scale": {"domain": [0, 110], "range": [0, 860]},
          "legend": {
            "orient": "none", "legendX": 436, "legendY": 16,
            "title": "Breakout area (m²)", "values": [5, 110],
            "symbolType": "circle", "symbolFillColor": "black",
            "symbolStrokeColor": "white", "symbolStrokeWidth": 0.8,
            "labelOffset": 20, "titlePadding": 11, "rowPadding": 0
          }
        }
      }
    }
  ]
}
